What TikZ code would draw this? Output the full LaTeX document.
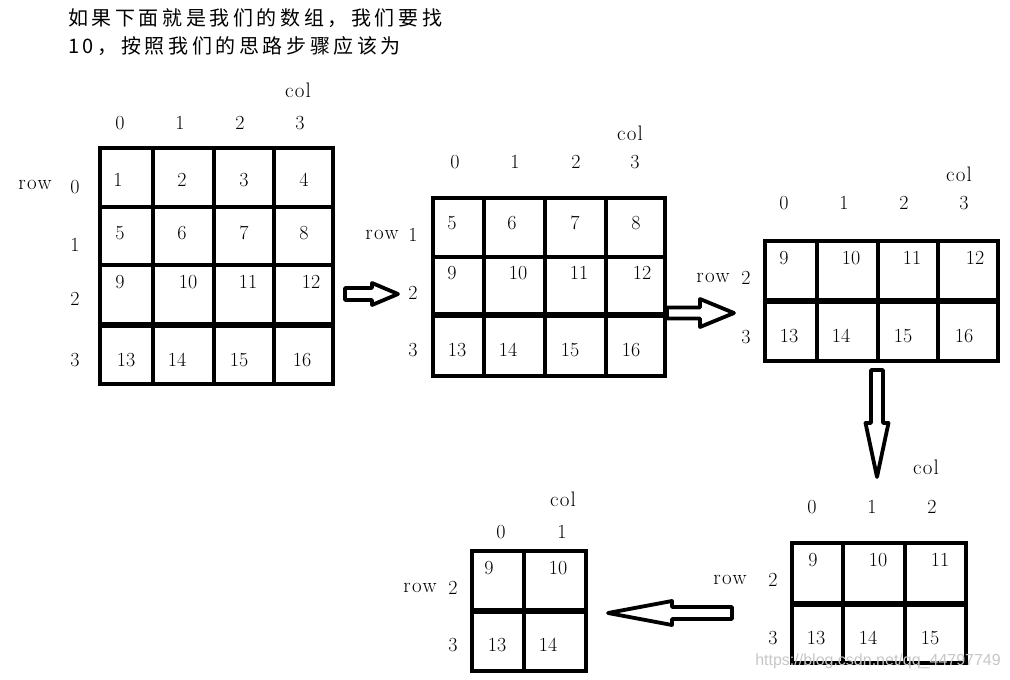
\documentclass[tikz,border=0pt]{standalone}
\usepackage{fontspec}
\usetikzlibrary{calc}
\newfontfamily\cjk[LetterSpace=18]{Noto Sans CJK SC}
\newfontfamily\lbfont[LetterSpace=6]{Latin Modern Roman}
\newfontfamily\wmfont{Liberation Sans}
\tikzset{
  num/.style={font=\fontsize{20}{22}\selectfont, inner sep=0pt},
  lbl/.style={font=\lbfont\fontsize{21}{24}\selectfont, inner sep=0pt},
  gridline/.style={line width=4pt},
  thickline/.style={line width=6pt},
  barrow/.style={line width=3.8pt, line join=round, fill=white}
}
\newcommand\blockarr[5]{%
  \coordinate (hb) at ($(#2)!#3!(#1)$);
  \draw[barrow] ($(#1)!#4!90:(#2)$) -- ($(hb)!#4!-90:(#1)$) -- ($(hb)!#5!-90:(#1)$) -- (#2)
     -- ($(hb)!#5!90:(#1)$) -- ($(hb)!#4!90:(#1)$) -- ($(#1)!#4!-90:(#2)$) -- cycle;}
\begin{document}
\begin{tikzpicture}[x=1pt,y=-1pt]
\fill[white] (0,0) rectangle (1010,680);
\useasboundingbox (0,0) rectangle (1010,680);

% heading
\node[anchor=west, font=\cjk\fontsize{20}{24}\selectfont, inner sep=0pt] (t1) at (68,18) {如果下面就是我们的数组，我们要找};
\node[anchor=west, font=\cjk\fontsize{20}{24}\selectfont, inner sep=0pt] (t2) at (68,46) {10，按照我们的思路步骤应该为};

% ---------- grid 1 ----------
\draw[gridline] (100,148) rectangle (333,384);
\foreach \x in {153,214,274} \draw[gridline] (\x,148) -- (\x,384);
\foreach \y in {207,265} \draw[gridline] (100,\y) -- (333,\y);
\draw[thickline] (100,325) -- (333,325);
\foreach \t/\x/\y in {1/118/180,2/182/180,3/244/180,4/304/180,
  5/120/233,6/182/233,7/244/233,8/304/233,
  9/120/282,10/188/282,11/248/282,12/311/282,
  13/126/360,14/177/360,15/239/360,16/302/360}
  \node[num] (a\t) at (\x,\y) {\t};
\foreach \t/\x in {0/120,1/180,2/240,3/300} \node[num] (ac\t) at (\x,123) {\t};
\node[lbl] (acol) at (298,90) {col};
\node[lbl] (arow) at (35,185) {row};
\foreach \t/\y in {0/187,1/245,2/299,3/360} \node[num] (ar\t) at (75,\y) {\t};

% ---------- grid 2 ----------
\draw[gridline] (433,198) rectangle (665,376);
\foreach \x in {484,545,606} \draw[gridline] (\x,198) -- (\x,376);
\draw[gridline] (433,257) -- (665,257);
\draw[thickline] (433,315) -- (665,315);
\foreach \t/\x/\y in {5/452/223,6/512/223,7/575/223,8/636/223,
  9/452/273,10/518/273,11/579/273,12/642/273,
  13/457/350,14/508/350,15/570/350,16/631/350}
  \node[num] (b\t) at (\x,\y) {\t};
\foreach \t/\x in {0/455,1/515,2/576,3/635} \node[num] (bc\t) at (\x,162) {\t};
\node[lbl] (bcol) at (630,133) {col};
\node[lbl] (brow) at (382,235) {row};
\foreach \t/\y in {1/235,2/293,3/350} \node[num] (br\t) at (413,\y) {\t};

% ---------- grid 3 ----------
\draw[gridline] (765,241) rectangle (998,361);
\foreach \x in {817,878,938} \draw[gridline] (\x,241) -- (\x,361);
\draw[thickline] (765,301) -- (998,301);
\foreach \t/\x/\y in {9/784/258,10/851/258,11/912/258,12/975/258,
  13/789/336,14/841/336,15/903/336,16/964/336}
  \node[num] (c\t) at (\x,\y) {\t};
\foreach \t/\x in {0/784,1/844,2/904,3/964} \node[num] (cc\t) at (\x,203) {\t};
\node[lbl] (ccol) at (959,174) {col};
\node[lbl] (crow) at (713,278) {row};
\foreach \t/\y in {2/278,3/337} \node[num] (cr\t) at (746,\y) {\t};

% ---------- grid 4 ----------
\draw[gridline] (792,543) rectangle (966,663);
\foreach \x in {843,905} \draw[gridline] (\x,543) -- (\x,663);
\draw[thickline] (792,604) -- (966,604);
\foreach \t/\x/\y in {9/813/560,10/878/560,11/940/560,
  13/816/638,14/868/638,15/930/638}
  \node[num] (d\t) at (\x,\y) {\t};
\foreach \t/\x in {0/812,1/872,2/932} \node[num] (dc\t) at (\x,507) {\t};
\node[lbl] (dcol) at (926,467) {col};
\node[lbl] (drow) at (730,580) {row};
\foreach \t/\y in {2/580,3/638} \node[num] (dr\t) at (773,\y) {\t};

% ---------- grid 5 ----------
\draw[gridline] (472,551) rectangle (586,671);
\draw[gridline] (524,551) -- (524,671);
\draw[thickline] (472,611) -- (586,611);
\foreach \t/\x/\y in {9/489/568,10/558/568,13/497/645,14/548/645}
  \node[num] (e\t) at (\x,\y) {\t};
\foreach \t/\x in {0/501,1/562} \node[num] (ec\t) at (\x,532) {\t};
\node[lbl] (ecol) at (563,499) {col};
\node[lbl] (erow) at (420,588) {row};
\foreach \t/\y in {2/588,3/645} \node[num] (er\t) at (453,\y) {\t};

% ---------- arrows ----------
\coordinate (p1s) at (345,294); \coordinate (p1e) at (398,294);
\coordinate (p2s) at (667,313); \coordinate (p2e) at (734,313);
\coordinate (p3s) at (877,370); \coordinate (p3e) at (877,477);
\coordinate (p4s) at (732,613); \coordinate (p4e) at (608,613);
\blockarr{p1s}{p1e}{26pt}{6pt}{11pt}
\blockarr{p2s}{p2e}{34pt}{5.5pt}{14pt}
\blockarr{p3s}{p3e}{54pt}{6pt}{11.5pt}
\blockarr{p4s}{p4e}{64pt}{6pt}{12pt}

% watermark
\node[anchor=east, text=black!22, font=\wmfont\fontsize{16}{18}\selectfont, inner sep=0pt] (wm) at (1001,661) {https://blog.csdn.net/qq\_44797749};
\end{tikzpicture}
\end{document}
